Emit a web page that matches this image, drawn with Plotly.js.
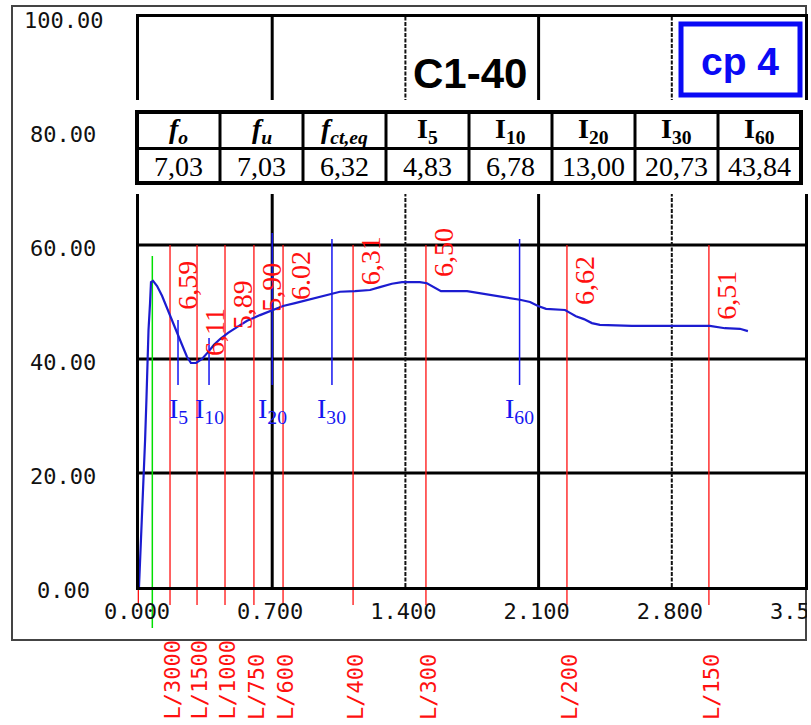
<!DOCTYPE html>
<html><head><meta charset="utf-8">
<script src="https://cdn.plot.ly/plotly-3.0.1.min.js"></script>
<style>html,body{margin:0;padding:0;background:#fff;} #chart{width:811px;height:725px;}</style>
</head><body><div id="chart"></div>
<script>
// ---------- data ----------
const deflection = [0.000,0.011,0.021,0.032,0.039,0.045,0.050,0.058,0.063,0.074,0.095,0.121,0.147,0.173,0.200,0.226,0.252,0.273,0.300,0.331,0.363,0.394,0.426,0.468,0.515,0.568,0.636,0.699,0.757,0.820,0.899,0.977,1.056,1.135,1.214,1.266,1.329,1.382,1.476,1.513,1.550,1.587,1.724,1.781,1.844,1.923,2.002,2.055,2.097,2.139,2.239,2.265,2.296,2.338,2.380,2.422,2.590,2.790,3.000,3.079,3.158,3.200];
const load = [0.00,8.25,17.0,25.8,32.8,39.8,45.1,49.8,53.5,53.7,52.8,51.1,48.9,46.8,44.7,42.5,40.4,39.3,39.3,40.0,41.2,42.5,43.5,44.6,45.6,46.7,47.7,48.6,49.3,49.8,50.5,51.2,51.8,51.9,52.1,52.6,53.2,53.5,53.5,53.3,52.6,51.9,51.9,51.6,51.2,50.9,50.4,50.0,49.3,48.8,48.6,48.1,47.5,47.0,46.3,46.0,45.8,45.8,45.8,45.4,45.3,44.9];

const xTickVals = [0, 0.7, 1.4, 2.1, 2.8, 3.5];
const xTickText = ['0.000','0.700','1.400','2.100','2.800','3.500'];
const yTickVals = [0, 20, 40, 60, 80, 100];
const yTickText = ['0.00','20.00','40.00','60.00','80.00','100.00'];

const limitNames = ['L/3000','L/1500','L/1000','L/750','L/600','L/400','L/300','L/200','L/150'];
const limitDefl  = [0.163, 0.305, 0.452, 0.604, 0.757, 1.125, 1.508, 2.249, 2.995];
const limitLoadText = ['6,59','6,11','5,89','5,90','6.02','6,31','6,50','6,62','6,51'];

const indexNames = ['5','10','20','30','60'];
const indexDefl  = [0.205, 0.368, 0.700, 1.014, 2.000];
const firstCrackDefl = 0.070;

const tableHeads = ['<i>f<sub>o</sub></i>','<i>f<sub>u</sub></i>','<i>f<sub>ct,eq</sub></i>','I<sub>5</sub>','I<sub>10</sub>','I<sub>20</sub>','I<sub>30</sub>','I<sub>60</sub>'];
const tableVals  = ['7,03','7,03','6,32','4,83','6,78','13,00','20,73','43,84'];

const specimen = 'C1-40';
const sampleTag = 'cp 4';

// ---------- layout helpers (pixel -> paper) ----------
const W = 811, H = 725, L = 139, R = 805, T = 17, B = 587;
const px = v => (v - L) / (R - L);
const py = v => (B - v) / (B - T);
const MONO = 'DejaVu Sans Mono', SERIF = 'Liberation Serif', SANS = 'Liberation Sans';
const NARROW = 'Liberation Sans Narrow';
const RED = '#ff1010', BLUE = '#1515f0', CURVE = '#1c1cd0';
const indexTopPx = [320, 338, 233, 239, 239];

function curveAt(x) {
  for (let i = 1; i < deflection.length; i++) {
    if (x <= deflection[i]) {
      const t = (x - deflection[i-1]) / (deflection[i] - deflection[i-1]);
      return load[i-1] + t * (load[i] - load[i-1]);
    }
  }
  return load[load.length - 1];
}

const shapes = [];
const annotations = [];

// frame
shapes.push({type:'rect', xref:'paper', yref:'paper', x0:px(12), x1:px(806), y0:py(640), y1:py(6),
  line:{color:'#444', width:2}, layer:'below'});

// horizontal grid
yTickVals.filter(v => v > 0 && v < 100).forEach(v => {
  shapes.push({type:'line', xref:'paper', yref:'y', x0:0, x1:1, y0:v, y1:v, line:{color:'#000', width:3}, layer:'below'});
});
// vertical grid
xTickVals.filter(v => v > 0 && v < 3.5).forEach((v, i) => {
  const dotted = (i % 2 === 1);
  shapes.push({type:'line', xref:'x', yref:'paper', x0:v, x1:v, y0:0, y1:1,
    line:{color: dotted ? '#111' : '#000', width: dotted ? 2 : 3, dash: dotted ? '4px,1.5px' : 'solid'}, layer:'below'});
});

// red deflection-limit lines (incl. origin)
shapes.push({type:'line', xref:'paper', yref:'paper', x0:-0.001, x1:-0.001, y0:py(605), y1:0.6, line:{color:RED, width:1.3}, layer:'below'});
limitDefl.forEach(v => {
  shapes.push({type:'line', xref:'x', yref:'paper', x0:v, x1:v, y0:py(605), y1:0.6, line:{color:RED, width:1.3}, layer:'below'});
});
// green first crack line
shapes.push({type:'line', xref:'x', yref:'paper', x0:firstCrackDefl, x1:firstCrackDefl, y0:py(628), y1:py(256), line:{color:'#00e000', width:1.5}, layer:'below'});
// blue index lines
indexDefl.forEach((v, i) => {
  shapes.push({type:'line', xref:'x', yref:'paper', x0:v, x1:v, y0:py(385), y1:py(indexTopPx[i]), line:{color:BLUE, width:1.5}, layer:'below'});
});

// white band behind table
shapes.push({type:'rect', xref:'paper', yref:'paper', x0:px(128), x1:1.02, y0:py(194), y1:py(100), fillcolor:'#fff', line:{width:0}, layer:'above'});

// table
const tL = 137, tR = 801, tTop = 112, tMid = 148.5, tBot = 183;
const colW = (tR - tL) / tableHeads.length;
shapes.push({type:'rect', xref:'paper', yref:'paper', x0:px(tL), x1:px(tR), y0:py(tBot), y1:py(tTop), fillcolor:'#fff', line:{color:'#000', width:4}, layer:'above'});
shapes.push({type:'line', xref:'paper', yref:'paper', x0:px(tL), x1:px(tR), y0:py(tMid), y1:py(tMid), line:{color:'#000', width:3}, layer:'above'});
for (let i = 1; i < tableHeads.length; i++) {
  const xx = px(tL + colW * i);
  shapes.push({type:'line', xref:'paper', yref:'paper', x0:xx, x1:xx, y0:py(tBot), y1:py(tTop), line:{color:'#000', width:3}, layer:'above'});
}
tableHeads.forEach((h, i) => {
  annotations.push({xref:'paper', yref:'paper', x:px(tL + colW*(i+0.5)), y:py(131), xanchor:'center', yanchor:'middle',
    text:'<b>' + h + '</b>', showarrow:false, font:{family:SERIF, size:28, color:'#000'}});
  annotations.push({xref:'paper', yref:'paper', x:px(tL + colW*(i+0.5)), y:py(166), xanchor:'center', yanchor:'middle',
    text:tableVals[i], showarrow:false, font:{family:SERIF, size:28, color:'#000'}});
});

// cp 4 box
shapes.push({type:'rect', xref:'paper', yref:'paper', x0:px(681), x1:px(800), y0:py(95), y1:py(24), fillcolor:'#fff', line:{color:'#0a0af5', width:5}, layer:'above'});
annotations.push({xref:'paper', yref:'paper', x:px(740), y:py(61), xanchor:'center', yanchor:'middle', text:'<b>' + sampleTag + '</b>',
  showarrow:false, font:{family:SANS, size:39, color:'#0a0af5'}});
// title
annotations.push({xref:'paper', yref:'paper', x:px(470), y:py(74), xanchor:'center', yanchor:'middle', text:'<b>' + specimen + '</b>',
  showarrow:false, font:{family:SANS, size:42, color:'#000'}});

// y tick labels (centered in the left band)
yTickVals.forEach((v, i) => {
  annotations.push({xref:'paper', yref:'y', x:px(63), y:v, xanchor:'center', yanchor:'middle', yshift:-3,
    text:yTickText[i], showarrow:false, font:{family:MONO, size:22, color:'#111'}});
});

// red load values at limits and limit names
limitDefl.forEach((v, i) => {
  annotations.push({xref:'x', yref:'y', x:v, y:curveAt(v), xanchor:'left', yanchor:'bottom', yshift:4, xshift:0,
    textangle:-90, text:limitLoadText[i], showarrow:false, font:{family:NARROW, size:28, color:RED}});
  annotations.push({xref:'x', yref:'paper', x:v, y:py(722), xanchor:'center', yanchor:'bottom', xshift:2,
    textangle:-90, text:limitNames[i], showarrow:false, font:{family:MONO, size:22, color:RED}});
});

// blue index labels
indexDefl.forEach((v, i) => {
  annotations.push({xref:'x', yref:'paper', x:v, y:py(391), xanchor:'center', yanchor:'top',
    text:'I<sub>' + indexNames[i] + '</sub>', showarrow:false, font:{family:SERIF, size:28, color:BLUE}});
});

// cover right overflow of last tick label
shapes.push({type:'rect', xref:'paper', yref:'paper', x0:px(807), x1:1.05, y0:py(640), y1:py(590), fillcolor:'#fff', line:{width:0}, layer:'above'});

const traces = [{
  type:'scatter', mode:'lines', x:deflection, y:load,
  line:{color:CURVE, width:2.2}, hoverinfo:'skip'
}];

const layout = {
  width:W, height:H, margin:{l:L, r:W-R, t:T, b:H-B, pad:0},
  paper_bgcolor:'#fff', plot_bgcolor:'rgba(0,0,0,0)', showlegend:false,
  xaxis:{range:[0,3.5], showgrid:false, zeroline:false, showline:true, mirror:true, linecolor:'#000', linewidth:3,
    ticks:'', tickvals:xTickVals, ticktext:xTickText, tickfont:{family:MONO, size:22, color:'#111'},
    ticklabelstandoff:3, ticklabelshift:-2, ticklabeloverflow:'allow', fixedrange:true},
  yaxis:{range:[0,100], showgrid:false, zeroline:false, showline:true, mirror:true, linecolor:'#000', linewidth:3,
    ticks:'', showticklabels:false, fixedrange:true},
  shapes:shapes, annotations:annotations
};

Plotly.newPlot('chart', traces, layout, {staticPlot:true, displayModeBar:false});
</script>
</body></html>
